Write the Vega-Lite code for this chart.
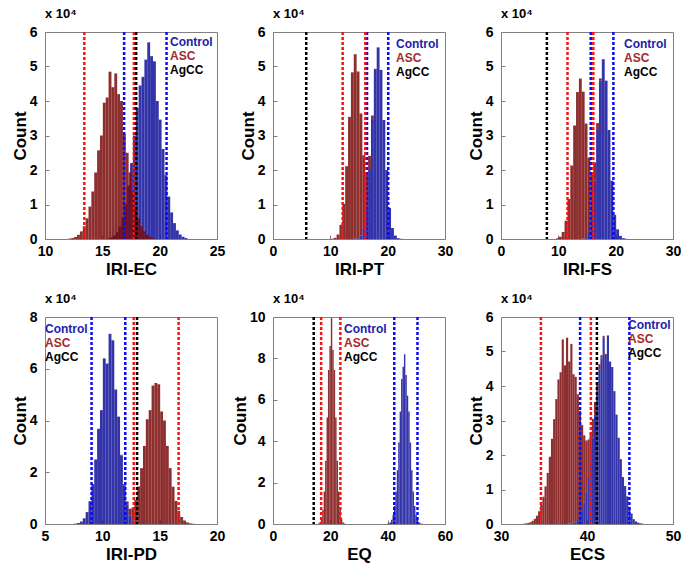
{
"$schema": "https://vega.github.io/schema/vega-lite/v6.json",
"padding": {"left": 10, "top": 7, "right": 5, "bottom": 5},
"background": "white",
"columns": 3,
"spacing": {"row": 78, "column": 56},
"bounds": "flush",
"resolve": {"scale": {"color": "independent"}, "legend": {"color": "independent"}},
"datasets": {
"ec": [
{"g":"Control","x":15.375,"c":200},{"g":"Control","x":15.625,"c":450},{"g":"Control","x":15.875,"c":1000},{"g":"Control","x":16.125,"c":2000},{"g":"Control","x":16.375,"c":3600},{"g":"Control","x":16.625,"c":6200},{"g":"Control","x":16.875,"c":10000},{"g":"Control","x":17.125,"c":15500},{"g":"Control","x":17.375,"c":22000},{"g":"Control","x":17.625,"c":30000},{"g":"Control","x":17.875,"c":38000},{"g":"Control","x":18.125,"c":44500},{"g":"Control","x":18.375,"c":47000},{"g":"Control","x":18.625,"c":52000},{"g":"Control","x":18.875,"c":57000},{"g":"Control","x":19.125,"c":53000},{"g":"Control","x":19.375,"c":51500},{"g":"Control","x":19.625,"c":40000},{"g":"Control","x":19.875,"c":34600},{"g":"Control","x":20.125,"c":26100},{"g":"Control","x":20.375,"c":18500},{"g":"Control","x":20.625,"c":12300},{"g":"Control","x":20.875,"c":7700},{"g":"Control","x":21.125,"c":4600},{"g":"Control","x":21.375,"c":2500},{"g":"Control","x":21.625,"c":1300},{"g":"Control","x":21.875,"c":630},{"g":"Control","x":22.125,"c":290},
{"g":"ASC","x":12.0,"c":140},{"g":"ASC","x":12.25,"c":300},{"g":"ASC","x":12.5,"c":600},{"g":"ASC","x":12.75,"c":1200},{"g":"ASC","x":13.0,"c":2200},{"g":"ASC","x":13.25,"c":3700},{"g":"ASC","x":13.5,"c":6000},{"g":"ASC","x":13.75,"c":9400},{"g":"ASC","x":14.0,"c":13800},{"g":"ASC","x":14.25,"c":19300},{"g":"ASC","x":14.5,"c":25700},{"g":"ASC","x":14.75,"c":30000},{"g":"ASC","x":15.0,"c":39500},{"g":"ASC","x":15.25,"c":41000},{"g":"ASC","x":15.5,"c":48500},{"g":"ASC","x":15.75,"c":44000},{"g":"ASC","x":16.0,"c":48000},{"g":"ASC","x":16.25,"c":42000},{"g":"ASC","x":16.5,"c":40000},{"g":"ASC","x":16.75,"c":30500},{"g":"ASC","x":17.0,"c":25000},{"g":"ASC","x":17.25,"c":19300},{"g":"ASC","x":17.5,"c":13800},{"g":"ASC","x":17.75,"c":9400},{"g":"ASC","x":18.0,"c":6000},{"g":"ASC","x":18.25,"c":3700},{"g":"ASC","x":18.5,"c":2200},{"g":"ASC","x":18.75,"c":1200},{"g":"ASC","x":19.0,"c":600},{"g":"ASC","x":19.25,"c":300}
],
"ecr": [{"g":"Control","x":16.9},{"g":"Control","x":20.6},{"g":"ASC","x":13.43},{"g":"ASC","x":17.75},{"g":"AgCC","x":17.95}],
"pt": [
{"g":"Control","x":14.0,"c":60},{"g":"Control","x":14.5,"c":250},{"g":"Control","x":15.0,"c":1000},{"g":"Control","x":15.5,"c":3200},{"g":"Control","x":16.0,"c":9000},{"g":"Control","x":16.5,"c":20000},{"g":"Control","x":17.0,"c":34500},{"g":"Control","x":17.5,"c":49000},{"g":"Control","x":18.0,"c":55500},{"g":"Control","x":18.5,"c":49000},{"g":"Control","x":19.0,"c":34500},{"g":"Control","x":19.5,"c":20000},{"g":"Control","x":20.0,"c":9000},{"g":"Control","x":20.5,"c":3200},{"g":"Control","x":21.0,"c":1000},{"g":"Control","x":21.5,"c":250},{"g":"Control","x":22.0,"c":60},
{"g":"ASC","x":10.0,"c":70},{"g":"ASC","x":10.5,"c":330},{"g":"ASC","x":11.0,"c":1300},{"g":"ASC","x":11.5,"c":4100},{"g":"ASC","x":12.0,"c":10200},{"g":"ASC","x":12.5,"c":21100},{"g":"ASC","x":13.0,"c":35400},{"g":"ASC","x":13.5,"c":48300},{"g":"ASC","x":14.0,"c":53500},{"g":"ASC","x":14.5,"c":48300},{"g":"ASC","x":15.0,"c":35400},{"g":"ASC","x":15.5,"c":21100},{"g":"ASC","x":16.0,"c":10200},{"g":"ASC","x":16.5,"c":4100},{"g":"ASC","x":17.0,"c":1300},{"g":"ASC","x":17.5,"c":330},{"g":"ASC","x":18.0,"c":70}
],
"ptr": [{"g":"Control","x":16.4},{"g":"Control","x":20.1},{"g":"ASC","x":12.15},{"g":"ASC","x":16.1},{"g":"AgCC","x":5.8}],
"fs": [
{"g":"Control","x":14.0,"c":110},{"g":"Control","x":14.5,"c":570},{"g":"Control","x":15.0,"c":2300},{"g":"Control","x":15.5,"c":7000},{"g":"Control","x":16.0,"c":16900},{"g":"Control","x":16.5,"c":31600},{"g":"Control","x":17.0,"c":45900},{"g":"Control","x":17.5,"c":52000},{"g":"Control","x":18.0,"c":45900},{"g":"Control","x":18.5,"c":31600},{"g":"Control","x":19.0,"c":16900},{"g":"Control","x":19.5,"c":7000},{"g":"Control","x":20.0,"c":2800},{"g":"Control","x":20.5,"c":900},{"g":"Control","x":21.0,"c":250},{"g":"Control","x":21.5,"c":60},
{"g":"ASC","x":9.5,"c":180},{"g":"ASC","x":10.0,"c":650},{"g":"ASC","x":10.5,"c":2000},{"g":"ASC","x":11.0,"c":5300},{"g":"ASC","x":11.5,"c":11600},{"g":"ASC","x":12.0,"c":21300},{"g":"ASC","x":12.5,"c":32900},{"g":"ASC","x":13.0,"c":42600},{"g":"ASC","x":13.5,"c":46500},{"g":"ASC","x":14.0,"c":42600},{"g":"ASC","x":14.5,"c":32900},{"g":"ASC","x":15.0,"c":21300},{"g":"ASC","x":15.5,"c":11600},{"g":"ASC","x":16.0,"c":5300},{"g":"ASC","x":16.5,"c":2000},{"g":"ASC","x":17.0,"c":650},{"g":"ASC","x":17.5,"c":180}
],
"fsr": [{"g":"Control","x":15.65},{"g":"Control","x":19.6},{"g":"ASC","x":11.6},{"g":"ASC","x":16.1},{"g":"AgCC","x":8.0}],
"pd": [
{"g":"Control","x":7.5,"c":145},{"g":"Control","x":7.75,"c":380},{"g":"Control","x":8.0,"c":960},{"g":"Control","x":8.25,"c":2200},{"g":"Control","x":8.5,"c":4600},{"g":"Control","x":8.75,"c":8800},{"g":"Control","x":9.0,"c":15500},{"g":"Control","x":9.25,"c":24900},{"g":"Control","x":9.5,"c":36800},{"g":"Control","x":9.75,"c":44000},{"g":"Control","x":10.0,"c":64000},{"g":"Control","x":10.25,"c":62000},{"g":"Control","x":10.5,"c":73500},{"g":"Control","x":10.75,"c":71000},{"g":"Control","x":11.0,"c":52000},{"g":"Control","x":11.25,"c":41400},{"g":"Control","x":11.5,"c":26500},{"g":"Control","x":11.75,"c":14800},{"g":"Control","x":12.0,"c":7400},{"g":"Control","x":12.25,"c":3200},{"g":"Control","x":12.5,"c":1250},{"g":"Control","x":12.75,"c":420},{"g":"Control","x":13.0,"c":125},
{"g":"ASC","x":11.25,"c":110},{"g":"ASC","x":11.5,"c":270},{"g":"ASC","x":11.75,"c":610},{"g":"ASC","x":12.0,"c":1350},{"g":"ASC","x":12.25,"c":2700},{"g":"ASC","x":12.5,"c":5100},{"g":"ASC","x":12.75,"c":8900},{"g":"ASC","x":13.0,"c":14400},{"g":"ASC","x":13.25,"c":21600},{"g":"ASC","x":13.5,"c":30200},{"g":"ASC","x":13.75,"c":40500},{"g":"ASC","x":14.0,"c":44000},{"g":"ASC","x":14.25,"c":53500},{"g":"ASC","x":14.5,"c":54500},{"g":"ASC","x":14.75,"c":54000},{"g":"ASC","x":15.0,"c":43500},{"g":"ASC","x":15.25,"c":40000},{"g":"ASC","x":15.5,"c":30200},{"g":"ASC","x":15.75,"c":21600},{"g":"ASC","x":16.0,"c":14400},{"g":"ASC","x":16.25,"c":8900},{"g":"ASC","x":16.5,"c":5100},{"g":"ASC","x":16.75,"c":2700},{"g":"ASC","x":17.0,"c":1350},{"g":"ASC","x":17.25,"c":610},{"g":"ASC","x":17.5,"c":270},{"g":"ASC","x":17.75,"c":110}
],
"pdr": [{"g":"Control","x":9.06},{"g":"Control","x":12.0},{"g":"ASC","x":12.74},{"g":"ASC","x":16.65},{"g":"AgCC","x":13.03}],
"eq": [
{"g":"Control","x":39.5,"c":110},{"g":"Control","x":40.0,"c":320},{"g":"Control","x":40.5,"c":830},{"g":"Control","x":41.0,"c":2000},{"g":"Control","x":41.5,"c":4400},{"g":"Control","x":42.0,"c":8700},{"g":"Control","x":42.5,"c":15700},{"g":"Control","x":43.0,"c":26000},{"g":"Control","x":43.5,"c":39400},{"g":"Control","x":44.0,"c":54300},{"g":"Control","x":44.5,"c":70000},{"g":"Control","x":45.0,"c":76000},{"g":"Control","x":45.5,"c":82000},{"g":"Control","x":46.0,"c":72000},{"g":"Control","x":46.5,"c":62000},{"g":"Control","x":47.0,"c":54300},{"g":"Control","x":47.5,"c":39400},{"g":"Control","x":48.0,"c":26000},{"g":"Control","x":48.5,"c":15700},{"g":"Control","x":49.0,"c":8700},{"g":"Control","x":49.5,"c":4400},{"g":"Control","x":50.0,"c":2000},{"g":"Control","x":50.5,"c":830},{"g":"Control","x":51.0,"c":320},{"g":"Control","x":51.5,"c":110},
{"g":"ASC","x":15.5,"c":250},{"g":"ASC","x":16.0,"c":880},{"g":"ASC","x":16.5,"c":2700},{"g":"ASC","x":17.0,"c":6900},{"g":"ASC","x":17.5,"c":15700},{"g":"ASC","x":18.0,"c":30600},{"g":"ASC","x":18.5,"c":51400},{"g":"ASC","x":19.0,"c":74400},{"g":"ASC","x":19.5,"c":86000},{"g":"ASC","x":20.0,"c":99500},{"g":"ASC","x":20.5,"c":84000},{"g":"ASC","x":21.0,"c":74400},{"g":"ASC","x":21.5,"c":51400},{"g":"ASC","x":22.0,"c":30600},{"g":"ASC","x":22.5,"c":15700},{"g":"ASC","x":23.0,"c":6900},{"g":"ASC","x":23.5,"c":2700},{"g":"ASC","x":24.0,"c":880},{"g":"ASC","x":24.5,"c":250}
],
"eqr": [{"g":"Control","x":42.3},{"g":"Control","x":50.4},{"g":"ASC","x":16.8},{"g":"ASC","x":23.5},{"g":"AgCC","x":14.2}],
"ecs": [
{"g":"Control","x":37.75,"c":100},{"g":"Control","x":38.0,"c":210},{"g":"Control","x":38.25,"c":410},{"g":"Control","x":38.5,"c":760},{"g":"Control","x":38.75,"c":1400},{"g":"Control","x":39.0,"c":2400},{"g":"Control","x":39.25,"c":4000},{"g":"Control","x":39.5,"c":6200},{"g":"Control","x":39.75,"c":9400},{"g":"Control","x":40.0,"c":13600},{"g":"Control","x":40.25,"c":18800},{"g":"Control","x":40.5,"c":25000},{"g":"Control","x":40.75,"c":31700},{"g":"Control","x":41.0,"c":38500},{"g":"Control","x":41.25,"c":44800},{"g":"Control","x":41.5,"c":48000},{"g":"Control","x":41.75,"c":54000},{"g":"Control","x":42.0,"c":49000},{"g":"Control","x":42.25,"c":54500},{"g":"Control","x":42.5,"c":47000},{"g":"Control","x":42.75,"c":45500},{"g":"Control","x":43.0,"c":38500},{"g":"Control","x":43.25,"c":31700},{"g":"Control","x":43.5,"c":25000},{"g":"Control","x":43.75,"c":18800},{"g":"Control","x":44.0,"c":13600},{"g":"Control","x":44.25,"c":11000},{"g":"Control","x":44.5,"c":8000},{"g":"Control","x":44.75,"c":5000},{"g":"Control","x":45.0,"c":3000},{"g":"Control","x":45.25,"c":1400},{"g":"Control","x":45.5,"c":760},{"g":"Control","x":45.75,"c":410},{"g":"Control","x":46.0,"c":210},{"g":"Control","x":46.25,"c":100},
{"g":"ASC","x":32.5,"c":92},{"g":"ASC","x":32.75,"c":170},{"g":"ASC","x":33.0,"c":310},{"g":"ASC","x":33.25,"c":540},{"g":"ASC","x":33.5,"c":920},{"g":"ASC","x":33.75,"c":1500},{"g":"ASC","x":34.0,"c":2400},{"g":"ASC","x":34.25,"c":3700},{"g":"ASC","x":34.5,"c":5500},{"g":"ASC","x":34.75,"c":7900},{"g":"ASC","x":35.0,"c":10900},{"g":"ASC","x":35.25,"c":14800},{"g":"ASC","x":35.5,"c":19500},{"g":"ASC","x":35.75,"c":24700},{"g":"ASC","x":36.0,"c":30400},{"g":"ASC","x":36.25,"c":36200},{"g":"ASC","x":36.5,"c":41900},{"g":"ASC","x":36.75,"c":44000},{"g":"ASC","x":37.0,"c":53500},{"g":"ASC","x":37.25,"c":46000},{"g":"ASC","x":37.5,"c":54000},{"g":"ASC","x":37.75,"c":47000},{"g":"ASC","x":38.0,"c":52000},{"g":"ASC","x":38.25,"c":43000},{"g":"ASC","x":38.5,"c":41900},{"g":"ASC","x":38.75,"c":36200},{"g":"ASC","x":39.0,"c":30400},{"g":"ASC","x":39.25,"c":24700},{"g":"ASC","x":39.5,"c":19500},{"g":"ASC","x":39.75,"c":14800},{"g":"ASC","x":40.0,"c":10900},{"g":"ASC","x":40.25,"c":7900},{"g":"ASC","x":40.5,"c":5500},{"g":"ASC","x":40.75,"c":3700},{"g":"ASC","x":41.0,"c":2400},{"g":"ASC","x":41.25,"c":1500},{"g":"ASC","x":41.5,"c":920},{"g":"ASC","x":41.75,"c":540},{"g":"ASC","x":42.0,"c":310},{"g":"ASC","x":42.25,"c":170},{"g":"ASC","x":42.5,"c":92}
],
"ecsr": [{"g":"Control","x":39.2},{"g":"Control","x":44.93},{"g":"ASC","x":34.64},{"g":"ASC","x":40.45},{"g":"AgCC","x":41.15}]
},
"concat": [
{"width": 172, "height": 207, "title": "x 10⁴",
 "layer": [
  {"data": {"name": "ec"}, "mark": {"type": "bar", "binSpacing": 0, "opacity": 0.85},
   "encoding": {
    "x": {"field": "x", "type": "quantitative", "bin": {"binned": true, "step": 0.25}, "scale": {"domain": [10, 25], "nice": false}, "axis": {"values": [10, 15, 20, 25], "format": "d", "title": "IRI-EC"}},
    "y": {"field": "c", "type": "quantitative", "scale": {"domain": [0, 60000], "nice": false}, "axis": {"values": [0, 10000, 20000, 30000, 40000, 50000, 60000], "labelExpr": "datum.value / 10000", "title": "Count"}},
    "color": {"field": "g", "type": "nominal", "scale": {"domain": ["Control", "ASC", "AgCC"], "range": ["#10109a", "#7a0a0a", "#000000"]}, "legend": {"title": null, "orient": "top-right", "offset": 4, "symbolType": "circle", "symbolSize": 0, "symbolStrokeWidth": 0, "labelOffset": 0, "labelColor": {"expr": "datum.label === 'Control' ? '#2222a8' : datum.label === 'ASC' ? '#a52a2a' : '#000000'"}}}
   }},
  {"data": {"name": "ecr"}, "mark": {"type": "rule", "strokeDash": [3, 2], "strokeWidth": 2.5},
   "encoding": {
    "x": {"field": "x", "type": "quantitative"},
    "color": {"field": "g", "type": "nominal", "scale": {"domain": ["Control", "ASC", "AgCC"], "range": ["#0a0aff", "#ff1010", "#000000"]}, "legend": null}
   }}
 ],
 "resolve": {"scale": {"color": "independent"}}
},
{"width": 172, "height": 207, "title": "x 10⁴",
 "layer": [
  {"data": {"name": "pt"}, "mark": {"type": "bar", "binSpacing": 0, "opacity": 0.85},
   "encoding": {
    "x": {"field": "x", "type": "quantitative", "bin": {"binned": true, "step": 0.5}, "scale": {"domain": [0, 30], "nice": false}, "axis": {"values": [0, 10, 20, 30], "format": "d", "title": "IRI-PT"}},
    "y": {"field": "c", "type": "quantitative", "scale": {"domain": [0, 60000], "nice": false}, "axis": {"values": [0, 10000, 20000, 30000, 40000, 50000, 60000], "labelExpr": "datum.value / 10000", "title": "Count"}},
    "color": {"field": "g", "type": "nominal", "scale": {"domain": ["Control", "ASC", "AgCC"], "range": ["#10109a", "#7a0a0a", "#000000"]}, "legend": {"title": null, "orient": "top-right", "offset": 6, "symbolType": "circle", "symbolSize": 0, "symbolStrokeWidth": 0, "labelOffset": 0, "labelColor": {"expr": "datum.label === 'Control' ? '#2222a8' : datum.label === 'ASC' ? '#a52a2a' : '#000000'"}}}
   }},
  {"data": {"name": "ptr"}, "mark": {"type": "rule", "strokeDash": [3, 2], "strokeWidth": 2.5},
   "encoding": {
    "x": {"field": "x", "type": "quantitative"},
    "color": {"field": "g", "type": "nominal", "scale": {"domain": ["Control", "ASC", "AgCC"], "range": ["#0a0aff", "#ff1010", "#000000"]}, "legend": null}
   }}
 ],
 "resolve": {"scale": {"color": "independent"}}
},
{"width": 172, "height": 207, "title": "x 10⁴",
 "layer": [
  {"data": {"name": "fs"}, "mark": {"type": "bar", "binSpacing": 0, "opacity": 0.85},
   "encoding": {
    "x": {"field": "x", "type": "quantitative", "bin": {"binned": true, "step": 0.5}, "scale": {"domain": [0, 30], "nice": false}, "axis": {"values": [0, 10, 20, 30], "format": "d", "title": "IRI-FS"}},
    "y": {"field": "c", "type": "quantitative", "scale": {"domain": [0, 60000], "nice": false}, "axis": {"values": [0, 10000, 20000, 30000, 40000, 50000, 60000], "labelExpr": "datum.value / 10000", "title": "Count"}},
    "color": {"field": "g", "type": "nominal", "scale": {"domain": ["Control", "ASC", "AgCC"], "range": ["#10109a", "#7a0a0a", "#000000"]}, "legend": {"title": null, "orient": "top-right", "offset": 6, "symbolType": "circle", "symbolSize": 0, "symbolStrokeWidth": 0, "labelOffset": 0, "labelColor": {"expr": "datum.label === 'Control' ? '#2222a8' : datum.label === 'ASC' ? '#a52a2a' : '#000000'"}}}
   }},
  {"data": {"name": "fsr"}, "mark": {"type": "rule", "strokeDash": [3, 2], "strokeWidth": 2.5},
   "encoding": {
    "x": {"field": "x", "type": "quantitative"},
    "color": {"field": "g", "type": "nominal", "scale": {"domain": ["Control", "ASC", "AgCC"], "range": ["#0a0aff", "#ff1010", "#000000"]}, "legend": null}
   }}
 ],
 "resolve": {"scale": {"color": "independent"}}
},
{"width": 172, "height": 207, "title": "x 10⁴",
 "layer": [
  {"data": {"name": "pd"}, "mark": {"type": "bar", "binSpacing": 0, "opacity": 0.85},
   "encoding": {
    "x": {"field": "x", "type": "quantitative", "bin": {"binned": true, "step": 0.25}, "scale": {"domain": [5, 20], "nice": false}, "axis": {"values": [5, 10, 15, 20], "format": "d", "title": "IRI-PD"}},
    "y": {"field": "c", "type": "quantitative", "scale": {"domain": [0, 80000], "nice": false}, "axis": {"values": [0, 20000, 40000, 60000, 80000], "labelExpr": "datum.value / 10000", "title": "Count"}},
    "color": {"field": "g", "type": "nominal", "scale": {"domain": ["Control", "ASC", "AgCC"], "range": ["#10109a", "#7a0a0a", "#000000"]}, "legend": {"title": null, "orient": "none", "legendX": -12, "legendY": 6, "symbolType": "circle", "symbolSize": 0, "symbolStrokeWidth": 0, "labelOffset": 0, "labelColor": {"expr": "datum.label === 'Control' ? '#2222a8' : datum.label === 'ASC' ? '#a52a2a' : '#000000'"}}}
   }},
  {"data": {"name": "pdr"}, "mark": {"type": "rule", "strokeDash": [3, 2], "strokeWidth": 2.5},
   "encoding": {
    "x": {"field": "x", "type": "quantitative"},
    "color": {"field": "g", "type": "nominal", "scale": {"domain": ["Control", "ASC", "AgCC"], "range": ["#0a0aff", "#ff1010", "#000000"]}, "legend": null}
   }}
 ],
 "resolve": {"scale": {"color": "independent"}}
},
{"width": 172, "height": 207, "title": "x 10⁴",
 "layer": [
  {"data": {"name": "eq"}, "mark": {"type": "bar", "binSpacing": 0, "opacity": 0.85},
   "encoding": {
    "x": {"field": "x", "type": "quantitative", "bin": {"binned": true, "step": 0.5}, "scale": {"domain": [0, 60], "nice": false}, "axis": {"values": [0, 20, 40, 60], "format": "d", "title": "EQ"}},
    "y": {"field": "c", "type": "quantitative", "scale": {"domain": [0, 100000], "nice": false}, "axis": {"values": [0, 20000, 40000, 60000, 80000, 100000], "labelExpr": "datum.value / 10000", "title": "Count"}},
    "color": {"field": "g", "type": "nominal", "scale": {"domain": ["Control", "ASC", "AgCC"], "range": ["#10109a", "#7a0a0a", "#000000"]}, "legend": {"title": null, "orient": "none", "legendX": 59, "legendY": 6, "symbolType": "circle", "symbolSize": 0, "symbolStrokeWidth": 0, "labelOffset": 0, "labelColor": {"expr": "datum.label === 'Control' ? '#2222a8' : datum.label === 'ASC' ? '#a52a2a' : '#000000'"}}}
   }},
  {"data": {"name": "eqr"}, "mark": {"type": "rule", "strokeDash": [3, 2], "strokeWidth": 2.5},
   "encoding": {
    "x": {"field": "x", "type": "quantitative"},
    "color": {"field": "g", "type": "nominal", "scale": {"domain": ["Control", "ASC", "AgCC"], "range": ["#0a0aff", "#ff1010", "#000000"]}, "legend": null}
   }}
 ],
 "resolve": {"scale": {"color": "independent"}}
},
{"width": 172, "height": 207, "title": "x 10⁴",
 "layer": [
  {"data": {"name": "ecs"}, "mark": {"type": "bar", "binSpacing": 0, "opacity": 0.85},
   "encoding": {
    "x": {"field": "x", "type": "quantitative", "bin": {"binned": true, "step": 0.25}, "scale": {"domain": [30, 50], "nice": false}, "axis": {"values": [30, 40, 50], "format": "d", "title": "ECS"}},
    "y": {"field": "c", "type": "quantitative", "scale": {"domain": [0, 60000], "nice": false}, "axis": {"values": [0, 10000, 20000, 30000, 40000, 50000, 60000], "labelExpr": "datum.value / 10000", "title": "Count"}},
    "color": {"field": "g", "type": "nominal", "scale": {"domain": ["Control", "ASC", "AgCC"], "range": ["#10109a", "#7a0a0a", "#000000"]}, "legend": {"title": null, "orient": "top-right", "offset": 2, "symbolType": "circle", "symbolSize": 0, "symbolStrokeWidth": 0, "labelOffset": 0, "labelColor": {"expr": "datum.label === 'Control' ? '#2222a8' : datum.label === 'ASC' ? '#a52a2a' : '#000000'"}}}
   }},
  {"data": {"name": "ecsr"}, "mark": {"type": "rule", "strokeDash": [3, 2], "strokeWidth": 2.5},
   "encoding": {
    "x": {"field": "x", "type": "quantitative"},
    "color": {"field": "g", "type": "nominal", "scale": {"domain": ["Control", "ASC", "AgCC"], "range": ["#0a0aff", "#ff1010", "#000000"]}, "legend": null}
   }}
 ],
 "resolve": {"scale": {"color": "independent"}}
}
],
"config": {
 "font": "Liberation Sans",
 "view": {"stroke": "#808080", "strokeWidth": 1},
 "axis": {"labelFont": "Liberation Sans", "labelFontSize": 14, "labelFontWeight": "bold", "labelColor": "#000000", "titleFont": "Liberation Sans", "titleFontSize": 17, "titleFontWeight": "bold", "titleColor": "#000000", "grid": false, "domain": false, "tickColor": "#808080", "tickSize": -4, "labelFlush": false},
 "axisX": {"labelPadding": 9, "titlePadding": 3},
 "axisY": {"labelPadding": 12, "titlePadding": 0},
 "legend": {"labelFont": "Liberation Sans", "labelFontSize": 12, "labelFontWeight": "bold", "symbolSize": 0, "symbolOpacity": 0, "symbolStrokeWidth": 0, "labelOffset": 0, "rowPadding": 2, "padding": 0, "labelLimit": 200},
 "title": {"font": "Liberation Sans", "fontSize": 13, "fontWeight": "bold", "anchor": "start", "frame": "group", "offset": 4, "color": "#000000"}
}
}
